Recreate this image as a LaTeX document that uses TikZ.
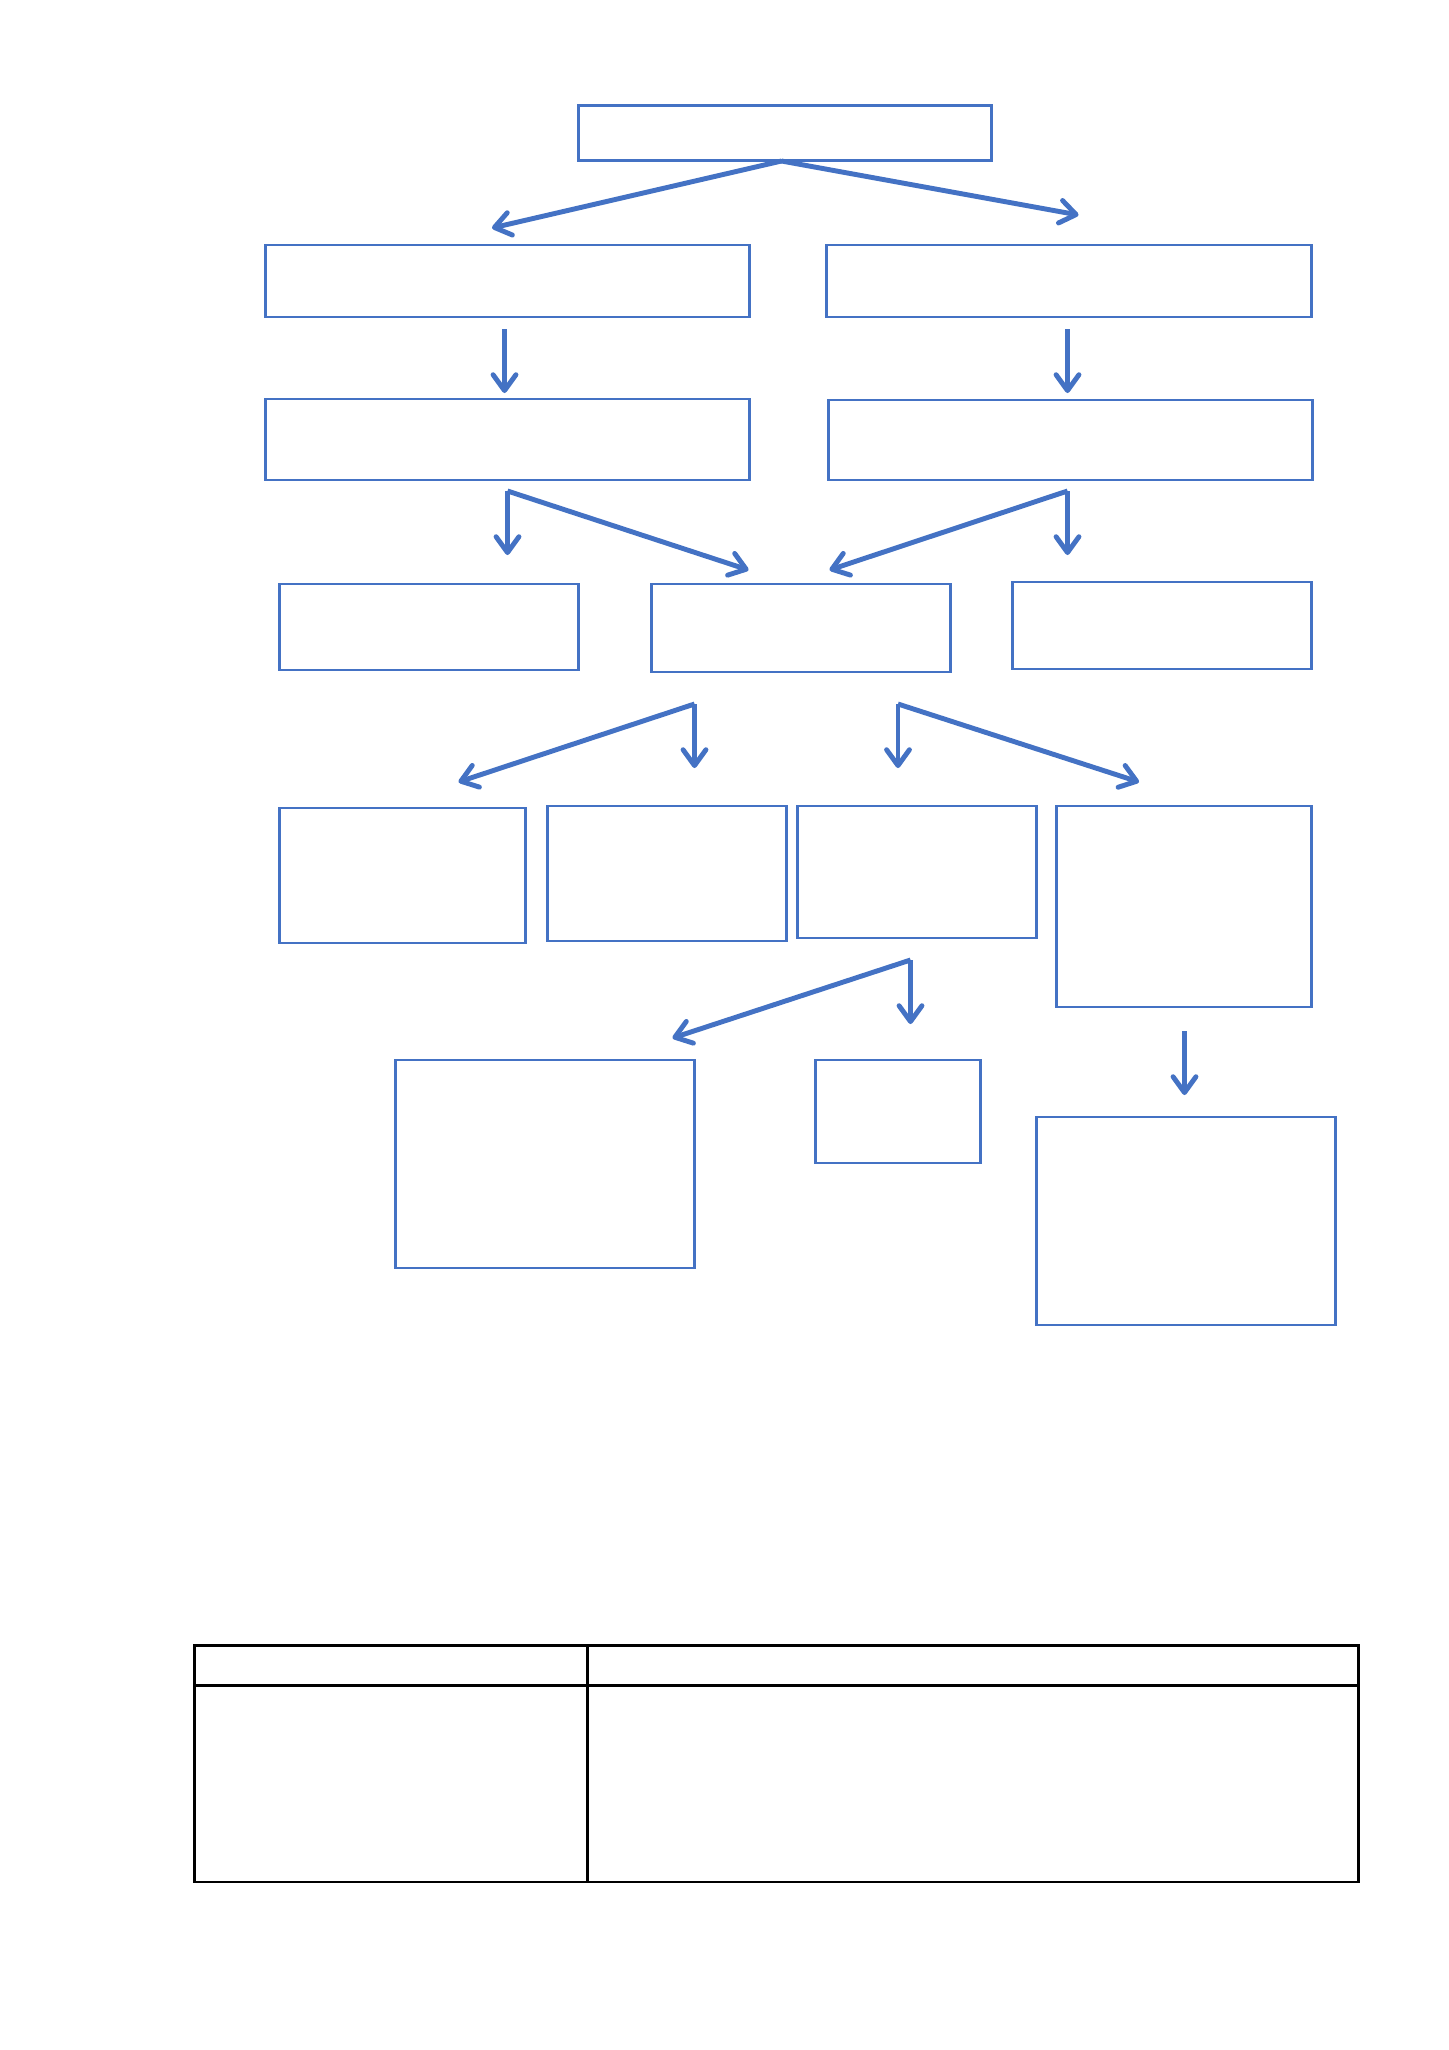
\documentclass[tikz,border=0pt]{standalone}
\usetikzlibrary{arrows.meta}
\definecolor{boxblue}{RGB}{68,114,196}
\begin{document}
\begin{tikzpicture}[x=0.02cm,y=-0.02cm,
  box/.style={draw=boxblue,line width=1.3pt,rectangle,inner sep=0pt},
  arr/.style={draw=boxblue,line width=2.8pt,
    -{Straight Barb[length=9pt,width=13pt,line cap=round,line join=round]}}]
\useasboundingbox[fill=white] (0,0) rectangle (1449,2050);
% boxes
\node[box,minimum width=8.26cm,minimum height=1.1cm] (top) at (785,133) {};
\node[box,minimum width=9.68cm,minimum height=1.44cm] (l1) at (507.5,281) {};
\node[box,minimum width=9.7cm,minimum height=1.44cm] (r1) at (1069,281) {};
\node[box,minimum width=9.68cm,minimum height=1.62cm] (l2) at (507.5,439.5) {};
\node[box,minimum width=9.68cm,minimum height=1.6cm] (r2) at (1070.5,440) {};
\node[box,minimum width=5.98cm,minimum height=1.72cm] (ca) at (429,627) {};
\node[box,minimum width=5.98cm,minimum height=1.76cm] (cb) at (801,628) {};
\node[box,minimum width=5.98cm,minimum height=1.74cm] (cc) at (1162,625.5) {};
\node[box,minimum width=4.92cm,minimum height=2.7cm] (da) at (402.5,875.5) {};
\node[box,minimum width=4.78cm,minimum height=2.7cm] (db) at (667,873.5) {};
\node[box,minimum width=4.78cm,minimum height=2.64cm] (dc) at (917,872) {};
\node[box,minimum width=5.1cm,minimum height=4.02cm] (dd) at (1184,906.5) {};
\node[box,minimum width=5.98cm,minimum height=4.16cm] (ea) at (545,1164) {};
\node[box,minimum width=3.3cm,minimum height=2.06cm] (eb) at (898,1111.5) {};
\node[box,minimum width=5.98cm,minimum height=4.16cm] (ec) at (1186,1221) {};
% arrow ends
\coordinate (tops) at (781.5,161);
\coordinate (topl) at (492,228);
\coordinate (topr) at (1078.5,215);
\coordinate (l1s) at (504.5,329);
\coordinate (l1e) at (504.5,393);
\coordinate (r1s) at (1067.5,329);
\coordinate (r1e) at (1067.5,393);
\coordinate (l2s) at (507.5,491);
\coordinate (l2d) at (507.5,555);
\coordinate (l2r) at (748.5,570);
\coordinate (r2s) at (1067.5,491);
\coordinate (r2d) at (1067.5,555);
\coordinate (r2l) at (829.5,570);
\coordinate (cbs) at (694.5,704);
\coordinate (cbl) at (458.5,782);
\coordinate (cbd) at (694.5,768);
\coordinate (cbt) at (898,704);
\coordinate (cbe) at (898,768);
\coordinate (cbr) at (1139,782);
\coordinate (dcs) at (910.5,960);
\coordinate (dcl) at (672.5,1038);
\coordinate (dcd) at (910.5,1024);
\coordinate (dds) at (1184.5,1031);
\coordinate (dde) at (1184.5,1095);
% arrows
\draw[arr] (tops) -- (topl);
\draw[arr] (tops) -- (topr);
\draw[arr] (l1s) -- (l1e);
\draw[arr] (r1s) -- (r1e);
\draw[arr] (l2s) -- (l2d);
\draw[arr] (l2s) -- (l2r);
\draw[arr] (r2s) -- (r2d);
\draw[arr] (r2s) -- (r2l);
\draw[arr] (cbs) -- (cbl);
\draw[arr] (cbs) -- (cbd);
\draw[arr] (cbt) -- (cbe);
\draw[arr] (cbt) -- (cbr);
\draw[arr] (dcs) -- (dcl);
\draw[arr] (dcs) -- (dcd);
\draw[arr] (dds) -- (dde);
% table
\draw[line width=1.3pt] (194.5,1645.5) rectangle (1358.5,1882);
\draw[line width=1.2pt] (194.5,1685.5) -- (1358.5,1685.5);
\draw[line width=1.2pt] (587.5,1645.5) -- (587.5,1882);
\end{tikzpicture}
\end{document}
